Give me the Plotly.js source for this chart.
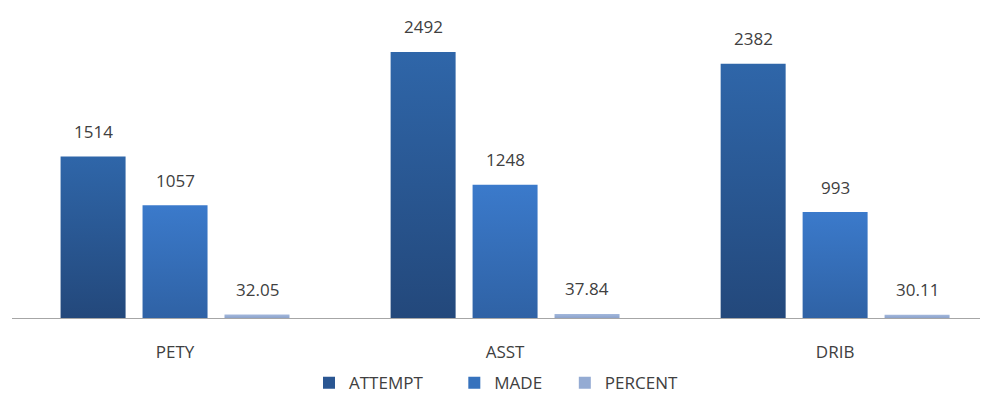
<!DOCTYPE html>
<html><head><meta charset="utf-8">
<script src="https://cdn.plot.ly/plotly-3.0.1.min.js"></script>
<style>body{margin:0;background:#fff}#chart{width:984px;height:394px}</style>
</head><body><div id="chart"></div>
<script>
const categories = ["PETY", "ASST", "DRIB"];
const attempt = [1514, 2492, 2382];
const made = [1057, 1248, 993];
const percent = [32.05, 37.84, 30.11];
const seriesNames = ["ATTEMPT", "MADE", "PERCENT"];
const seriesColors = ["#2a5692", "#3672bd", "#94abd3"];
const gradTop = ["#2f66a9", "#3b7acb", "#a3b8dc"];
const gradBottom = ["#23487b", "#2f62a5", "#8ca3cc"];
const series = [attempt, made, percent];
const pads = [6, 4, 0];

const bargap = 0.255, groupgap = 0.207;
const slot = (1 - bargap) / 3;
const FONT = "Open Sans, sans-serif";

const traces = series.map((vals, i) => ({
  type: "bar", name: seriesNames[i] + "\u00a0".repeat(pads[i]), x: [0,1,2], y: vals,
  marker: {color: seriesColors[i], line: {width: 0}},
  hoverinfo: "none"
}));

const annotations = [];
series.forEach((vals, i) => {
  vals.forEach((v, j) => {
    annotations.push({
      x: j + (i - 1) * slot, y: v, xref: "x", yref: "y",
      text: String(v), showarrow: false, yshift: 25, yanchor: "middle",
      font: {family: FONT, size: 17, color: "#404040"}
    });
  });
});

const layout = {
  width: 984, height: 394,
  margin: {l: 12, r: 4, t: 0, b: 76, autoexpand: false},
  paper_bgcolor: "#fff", plot_bgcolor: "#fff",
  barmode: "group", bargap: bargap, bargroupgap: groupgap,
  showlegend: true,
  legend: {orientation: "h", x: 0.5, xanchor: "center", y: -0.205, yanchor: "middle",
    font: {family: FONT, size: 17, color: "#404040"}, itemwidth: 30},
  xaxis: {range: [-0.494, 2.439], tickmode: "array", tickvals: [0,1,2], ticktext: categories,
    showline: true, linecolor: "#a6a6a6", linewidth: 1, showgrid: false, zeroline: false,
    ticks: "outside", ticklen: 19, tickcolor: "rgba(0,0,0,0)",
    tickfont: {family: FONT, size: 17, color: "#404040"}, fixedrange: true},
  yaxis: {range: [0, 2979], visible: false, showgrid: false, zeroline: false, fixedrange: true},
  annotations: annotations
};

Plotly.newPlot("chart", traces, layout, {displayModeBar: false, staticPlot: true}).then(() => {
  const svg = document.querySelector("#chart .main-svg");
  const ns = "http://www.w3.org/2000/svg";
  let defs = svg.querySelector("defs");
  seriesNames.forEach((n, i) => {
    const g = document.createElementNS(ns, "linearGradient");
    g.setAttribute("id", "grad" + i);
    g.setAttribute("x1", "0"); g.setAttribute("y1", "0");
    g.setAttribute("x2", "0"); g.setAttribute("y2", "1");
    const s1 = document.createElementNS(ns, "stop");
    s1.setAttribute("offset", "0"); s1.setAttribute("stop-color", gradTop[i]);
    const s2 = document.createElementNS(ns, "stop");
    s2.setAttribute("offset", "1"); s2.setAttribute("stop-color", gradBottom[i]);
    g.appendChild(s1); g.appendChild(s2); defs.appendChild(g);
  });
  document.querySelectorAll("#chart .barlayer .trace").forEach((t, i) => {
    t.querySelectorAll("path").forEach(p => { p.style.fill = "url(#grad" + i + ")"; });
  });
});
</script></body></html>
